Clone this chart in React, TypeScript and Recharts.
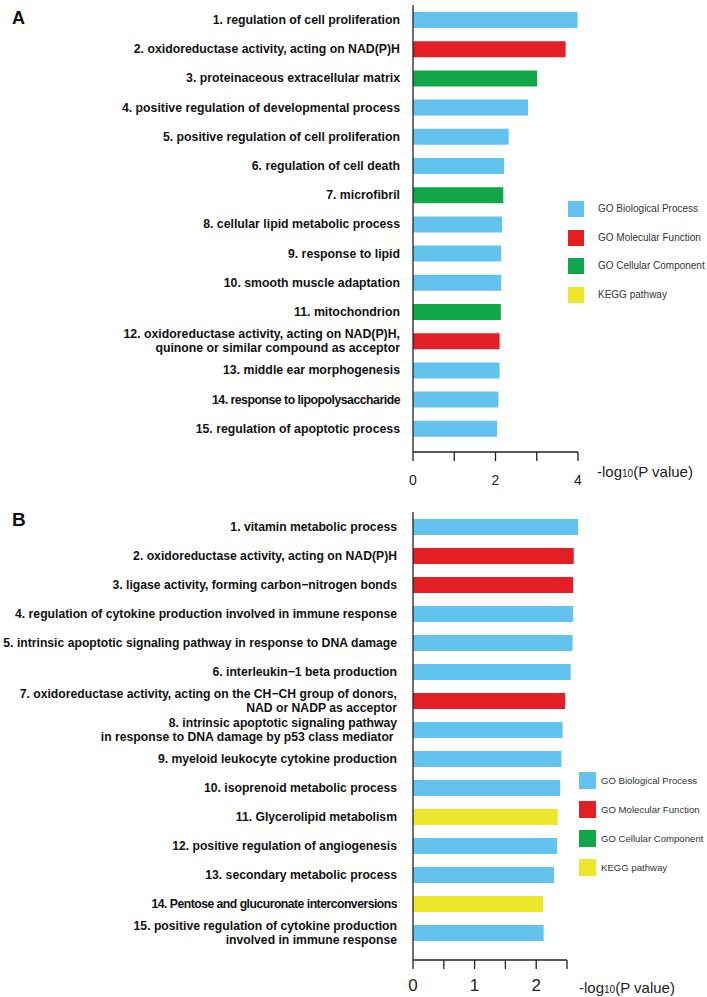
import React from 'react';
import { BarChart, Bar, XAxis, YAxis, Cell, ReferenceLine } from 'recharts';

const FONT = "'Liberation Sans', Arial, Helvetica, sans-serif";

const typeNames = ['GO Biological Process', 'GO Molecular Function', 'GO Cellular Component', 'KEGG pathway'];
const typeColors = ['#63C3EE', '#E31E25', '#12A64A', '#EEE62B'];

const namesA = [
  '1. regulation of cell proliferation',
  '2. oxidoreductase activity, acting on NAD(P)H',
  '3. proteinaceous extracellular matrix',
  '4. positive regulation of developmental process',
  '5. positive regulation of cell proliferation',
  '6. regulation of cell death',
  '7. microfibril',
  '8. cellular lipid metabolic process',
  '9. response to lipid',
  '10. smooth muscle adaptation',
  '11. mitochondrion',
  '12. oxidoreductase activity, acting on NAD(P)H,\nquinone or similar compound as acceptor',
  '13. middle ear morphogenesis',
  '14. response to lipopolysaccharide',
  '15. regulation of apoptotic process',
];
const valuesA = [3.99, 3.7, 3.01, 2.79, 2.32, 2.21, 2.19, 2.16, 2.14, 2.14, 2.13, 2.1, 2.1, 2.07, 2.04];
const typesA = [0, 1, 2, 0, 0, 0, 2, 0, 0, 0, 2, 1, 0, 0, 0];
const ticksA = [0, 1, 2, 3, 4];
const tickLabelsA = [0, 2, 4];

const namesB = [
  '1. vitamin metabolic process',
  '2. oxidoreductase activity, acting on NAD(P)H',
  '3. ligase activity, forming carbon\u2212nitrogen bonds',
  '4. regulation of cytokine production involved in immune response',
  '5. intrinsic apoptotic signaling pathway in response to DNA damage',
  '6. interleukin\u22121 beta production',
  '7. oxidoreductase activity, acting on the CH\u2212CH group of donors,\nNAD or NADP as acceptor',
  '8. intrinsic apoptotic signaling pathway\nin response to DNA damage by p53 class mediator ',
  '9. myeloid leukocyte cytokine production',
  '10. isoprenoid metabolic process',
  '11. Glycerolipid metabolism',
  '12. positive regulation of angiogenesis',
  '13. secondary metabolic process',
  '14. Pentose and glucuronate interconversions',
  '15. positive regulation of cytokine production\ninvolved in immune response',
];
const valuesB = [2.68, 2.61, 2.6, 2.6, 2.59, 2.56, 2.47, 2.43, 2.41, 2.39, 2.35, 2.34, 2.29, 2.11, 2.12];
const typesB = [0, 1, 1, 0, 0, 0, 1, 0, 0, 0, 3, 0, 0, 3, 0];
const ticksB = [0, 0.5, 1, 1.5, 2, 2.5];
const tickLabelsB = [0, 1, 2];

const condensedLabels = ['14. response to lipopolysaccharide', '14. Pentose and glucuronate interconversions'];

const makeYTick = (fontSize: number) => (props: any) => {
  const { x, y, payload } = props;
  const text = String(payload.value);
  const lines = text.split('\n');
  const lh = 14.5;
  const condensed = condensedLabels.includes(text);
  return (
    <text
      x={x}
      y={y}
      textAnchor="end"
      fontSize={fontSize}
      fontWeight="bold"
      fill="#111"
      fontFamily={FONT}
      letterSpacing={condensed ? -0.5 : 0}
      style={{ whiteSpace: 'pre' }}
    >
      {lines.map((l, i) => (
        <tspan key={i} x={x} y={y + (i - (lines.length - 1) / 2) * lh} dy="0.36em">
          {l}
        </tspan>
      ))}
    </text>
  );
};

const makeAxisLabel = (dx: number, dy: number) => (props: any) => {
  const vb = props.viewBox || {};
  const x = vb.x + vb.width + dx;
  const y = vb.y + dy;
  return (
    <text x={x} y={y} dominantBaseline="central" fontSize={15} fill="#222" fontFamily={FONT}>
      -log
      <tspan fontSize={10} dy={2}>10</tspan>
      <tspan dy={-2}>(P value)</tspan>
    </text>
  );
};

type PanelProps = {
  names: string[];
  values: number[];
  types: number[];
  ticks: number[];
  tickLabels: number[];
  top: number;
  height: number;
  marginTop: number;
  marginRight: number;
  xAxisHeight: number;
  domainMax: number;
  axisMax: number;
  padBottom: number;
  yTickMargin: number;
  xTickFont: number;
  xTickMargin: number;
  labelDx: number;
  labelDy: number;
  labelFont: number;
};

const Panel = (p: PanelProps) => {
  const data = p.names.map((n, i) => ({ name: n, value: p.values[i], type: p.types[i] }));
  return (
    <div style={{ position: 'absolute', left: 0, top: p.top }}>
      <BarChart
        width={707}
        height={p.height}
        data={data}
        layout="vertical"
        margin={{ top: p.marginTop, right: p.marginRight, bottom: 0, left: 0 }}
        barCategoryGap={0}
      >
        <XAxis
          type="number"
          domain={[0, p.domainMax]}
          ticks={p.ticks}
          allowDataOverflow
          interval={0}
          height={p.xAxisHeight}
          axisLine={false}
          tickLine={{ stroke: '#222', strokeWidth: 1.3 }}
          tickSize={9}
          tickMargin={p.xTickMargin}
          tick={{ fontSize: p.xTickFont, fill: '#222', fontFamily: FONT }}
          tickFormatter={(v: number) => (p.tickLabels.includes(v) ? String(v) : '')}
          label={{ content: makeAxisLabel(p.labelDx, p.labelDy) } as any}
        />
        <YAxis
          type="category"
          dataKey="name"
          width={413}
          interval={0}
          padding={{ top: 0, bottom: p.padBottom }}
          axisLine={{ stroke: '#222', strokeWidth: 1.3 }}
          tickLine={false}
          tickSize={0}
          tickMargin={p.yTickMargin}
          tick={makeYTick(p.labelFont)}
        />
        <YAxis yAxisId="base" type="category" hide />
        <Bar dataKey="value" barSize={16} isAnimationActive={false}>
          {data.map((d, i) => (
            <Cell key={i} fill={typeColors[d.type]} />
          ))}
        </Bar>
        <ReferenceLine
          yAxisId="base"
          position="end"
          segment={[
            { x: 0, y: data.length - 1 },
            { x: p.axisMax, y: data.length - 1 },
          ]}
          stroke="#222"
          strokeWidth={1.3}
          ifOverflow="visible"
        />
      </BarChart>
    </div>
  );
};

const LegendBox = ({ left, top, size, gap, textLeft, fontSize }: { left: number; top: number; size: number; gap: number; textLeft: number; fontSize: number }) => (
  <>
    {typeNames.map((n, i) => (
      <React.Fragment key={n}>
        <div
          style={{
            position: 'absolute',
            left,
            top: top + i * gap,
            width: size,
            height: size,
            background: typeColors[i],
          }}
        />
        <div
          style={{
            position: 'absolute',
            left: textLeft,
            top: top + i * gap,
            height: size,
            lineHeight: `${size}px`,
            fontSize,
            color: '#333',
            fontFamily: FONT,
            whiteSpace: 'nowrap',
          }}
        >
          {n}
        </div>
      </React.Fragment>
    ))}
  </>
);

export default function App() {
  return (
    <div style={{ position: 'absolute', left: 0, top: 0, width: 707, height: 997, background: '#fff', overflow: 'hidden' }}>
      <Panel
        names={namesA}
        values={valuesA}
        types={typesA}
        ticks={ticksA}
        tickLabels={tickLabelsA}
        top={0}
        height={500}
        marginTop={5}
        marginRight={129}
        xAxisHeight={48}
        domainMax={4}
        axisMax={4}
        padBottom={9}
        yTickMargin={13}
        xTickFont={14}
        xTickMargin={14}
        labelDx={19}
        labelDy={19}
        labelFont={12.3}
      />
      <Panel
        names={namesB}
        values={valuesB}
        types={typesB}
        ticks={ticksB}
        tickLabels={tickLabelsB}
        top={500}
        height={497}
        marginTop={12}
        marginRight={124.6}
        xAxisHeight={37}
        domainMax={2.75}
        axisMax={2.5}
        padBottom={13}
        yTickMargin={16}
        xTickFont={17}
        xTickMargin={10}
        labelDx={-3.4}
        labelDy={27}
        labelFont={12.2}
      />
      <div style={{ position: 'absolute', left: 12, top: 8, fontSize: 18, fontWeight: 'bold', fontFamily: FONT, color: '#111' }}>A</div>
      <div style={{ position: 'absolute', left: 12, top: 509, fontSize: 19, fontWeight: 'bold', fontFamily: FONT, color: '#111' }}>B</div>
      <LegendBox left={568} top={201} size={16} gap={28.5} textLeft={598} fontSize={10} />
      <LegendBox left={579} top={772} size={17} gap={29} textLeft={601} fontSize={9.6} />
    </div>
  );
}
